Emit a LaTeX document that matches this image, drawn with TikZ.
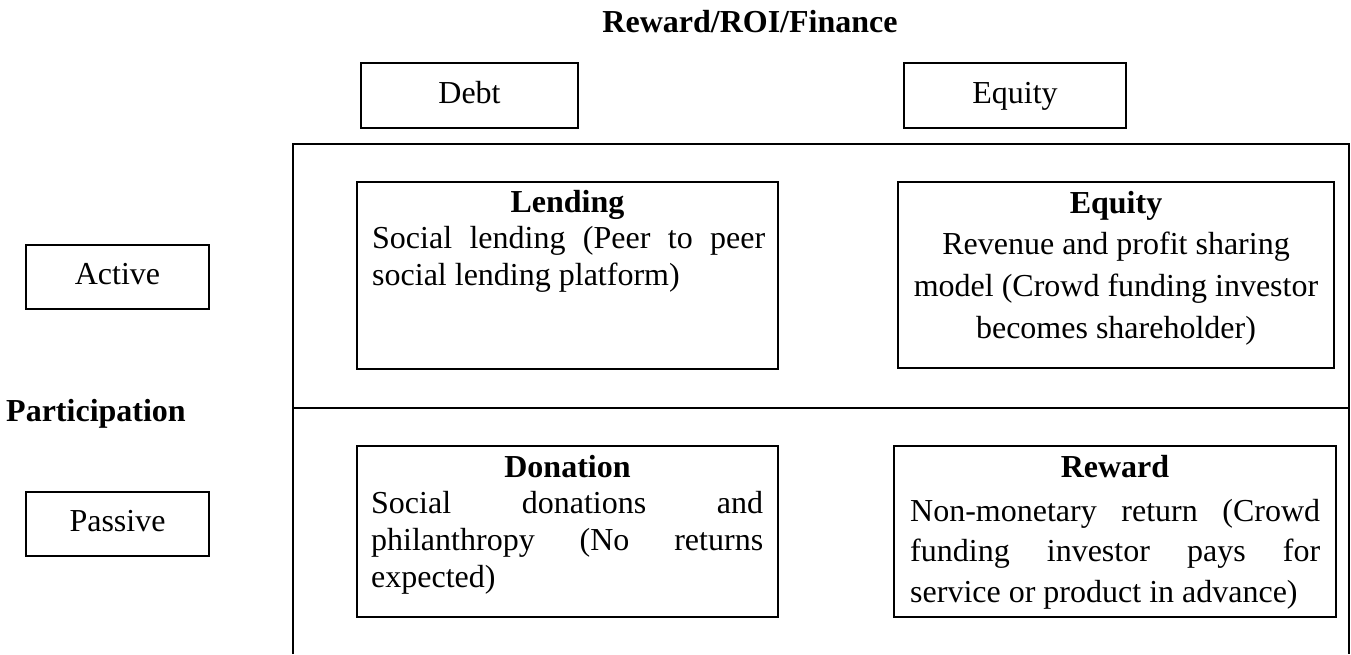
\documentclass[tikz,border=0pt]{standalone}
\usepackage{fontspec}
\setmainfont{Liberation Serif}
\begin{document}
\begin{tikzpicture}[x=1pt,y=-1pt,
  box/.style={draw, line width=2pt, inner sep=0pt},
  lbl/.style={inner sep=0pt, font=\fontsize{32}{37}\selectfont},
  hd/.style={inner sep=0pt, font=\fontsize{32}{37}\selectfont\bfseries},
  wordbox/.style={box, font=\fontsize{32}{37}\selectfont, text height=22pt, text depth=7pt},
  frame/.style={line width=2pt}]
\useasboundingbox (0,0) rectangle (1351,654);

% header
\node[hd, anchor=base] (title) at (750,32) {Reward/ROI/Finance};
\node[wordbox, minimum width=217pt, minimum height=65pt] (debt) at (469.5,95.5) {Debt};
\node[wordbox, minimum width=222pt, minimum height=65pt] (equitytop) at (1015,95.5) {Equity};

% left labels
\node[wordbox, minimum width=183pt, minimum height=64pt] (active) at (117.5,277) {Active};
\node[wordbox, minimum width=183pt, minimum height=64pt] (passive) at (117.5,524) {Passive};
\node[hd, anchor=base] (particip) at (96,421) {Participation};

% frame
\coordinate (fbl) at (293,654);
\coordinate (ftl) at (293,144);
\coordinate (ftr) at (1349,144);
\coordinate (fbr) at (1349,654);
\coordinate (dl) at (293,408);
\coordinate (dr) at (1349,408);
\draw[frame] (fbl) -- (ftl) -- (ftr) -- (fbr);
\draw[frame] (dl) -- (dr);

% Lending
\node[box, minimum width=421pt, minimum height=187pt] (lendbox) at (567.5,275.5) {};
\node[hd, anchor=base] (lendt) at (567.5,212) {Lending};
\node[lbl, anchor=base west] (lend1) at (372,248) {\makebox[393pt][s]{Social lending (Peer to peer}};
\node[lbl, anchor=base west] (lend2) at (372,285) {social lending platform)};

% Equity
\node[box, minimum width=436pt, minimum height=186pt] (eqbox) at (1116,275) {};
\node[hd, anchor=base] (eqt) at (1116,213) {Equity};
\node[lbl, anchor=base] (eq1) at (1116,254) {Revenue and profit sharing};
\node[lbl, anchor=base] (eq2) at (1116,296) {model (Crowd funding investor};
\node[lbl, anchor=base] (eq3) at (1116,338) {becomes shareholder)};

% Donation
\node[box, minimum width=421pt, minimum height=171pt] (donbox) at (567.5,531.5) {};
\node[hd, anchor=base] (dont) at (567.5,477) {Donation};
\node[lbl, anchor=base west] (don1) at (371,513) {\makebox[392pt][s]{Social donations and}};
\node[lbl, anchor=base west] (don2) at (371,550) {\makebox[392pt][s]{philanthropy (No returns}};
\node[lbl, anchor=base west] (don3) at (371,587) {expected)};

% Reward
\node[box, minimum width=442pt, minimum height=171pt] (rewbox) at (1115,531.5) {};
\node[hd, anchor=base] (rewt) at (1115,477) {Reward};
\node[lbl, anchor=base west] (rew1) at (910,521) {\makebox[410pt][s]{Non-monetary return (Crowd}};
\node[lbl, anchor=base west] (rew2) at (910,561) {\makebox[410pt][s]{funding investor pays for}};
\node[lbl, anchor=base west] (rew3) at (910,602) {service or product in advance)};
\end{tikzpicture}
\end{document}
